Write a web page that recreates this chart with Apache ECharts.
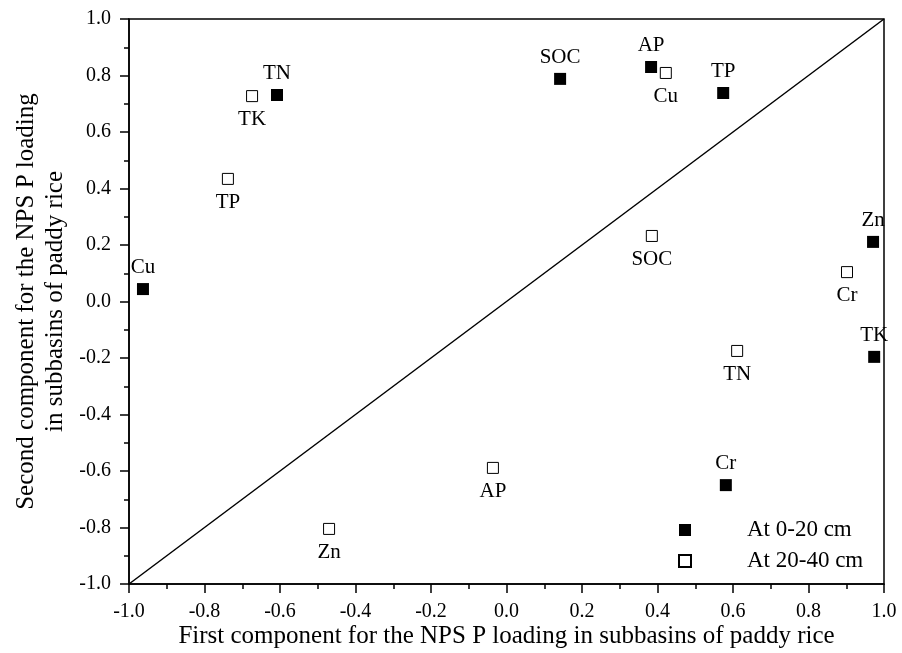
<!DOCTYPE html>
<html>
<head>
<meta charset="utf-8">
<script src="https://cdn.jsdelivr.net/npm/echarts@6/dist/echarts.min.js"></script>
<style>
html, body { margin: 0; padding: 0; background: #fff; }
#chart { width: 902px; height: 653px; }
</style>
</head>
<body>
<div id="chart"></div>
<script>
// 0-20 cm 层
var topNames = ['Cu', 'TN', 'SOC', 'AP', 'TP', 'Zn', 'TK', 'Cr'];
var topX = [-0.963, -0.608, 0.142, 0.383, 0.574, 0.971, 0.974, 0.581];
var topY = [0.044, 0.731, 0.788, 0.830, 0.738, 0.211, -0.196, -0.650];
// 20-40 cm 层
var subNames = ['TK', 'TP', 'Cu', 'SOC', 'Cr', 'TN', 'AP', 'Zn'];
var subX = [-0.674, -0.738, 0.422, 0.385, 0.902, 0.611, -0.036, -0.470];
var subY = [0.727, 0.434, 0.809, 0.232, 0.104, -0.175, -0.589, -0.805];
// 对角线 1:1
var diagX = [-1, 1];
var diagY = [-1, 1];

var fontFam = '"Liberation Serif", "Times New Roman", serif';

function buildPoints(names, xs, ys) {
	var arr = [];
	for (var i = 0; i < names.length; i++) {
		arr.push({ name: names[i], value: [xs[i], ys[i]] });
	}
	return arr;
}

var diagData = [];
for (var i = 0; i < diagX.length; i++) {
	diagData.push([diagX[i], diagY[i]]);
}

function makeAxis(extra) {
	var ax = {
		type: 'value',
		min: -1,
		max: 1,
		interval: 0.2,
		splitLine: { show: false },
		axisLine: { show: true, onZero: false, lineStyle: { color: '#000', width: 1.5 } },
		axisTick: { show: true, inside: false, length: 9, lineStyle: { color: '#000', width: 1.5 } },
		minorTick: { show: true, splitNumber: 2, length: 5, lineStyle: { color: '#000', width: 1.5 } },
		axisLabel: {
			color: '#000',
			fontSize: 20,
			margin: 18,
			fontFamily: fontFam,
			formatter: function(v) {
				return v.toFixed(1);
			}
		},
		nameLocation: 'middle',
		nameMoveOverlap: false,
		nameTextStyle: { color: '#000', fontSize: 25, fontFamily: fontFam, lineHeight: 29 }
	};
	for (var k in extra) {
		ax[k] = extra[k];
	}
	return ax;
}

var chart = echarts.init(document.getElementById('chart'));
var option = {
	backgroundColor: '#fff',
	animation: false,
	grid: {
		left: 129,
		right: 18,
		top: 19,
		bottom: 69,
		outerBoundsMode: 'none',
		show: true,
		borderColor: '#000',
		borderWidth: 1.5,
		backgroundColor: 'transparent'
	},
	legend: {
		orient: 'vertical',
		left: 678,
		top: 518,
		padding: 0,
		itemWidth: 12,
		itemHeight: 12,
		itemGap: 7,
		icon: 'rect',
		data: ['At 0-20 cm', 'At 20-40 cm'],
		textStyle: { color: '#000', fontSize: 23, lineHeight: 24, fontFamily: fontFam, padding: [0, 0, 0, 51] }
	},
	xAxis: makeAxis({
		name: 'First component for the NPS P loading in subbasins of paddy rice',
		nameGap: 38
	}),
	yAxis: makeAxis({
		name: 'Second component for the NPS P loading\nin subbasins of paddy rice',
		nameGap: 59
	}),
	series: [{
		type: 'line',
		data: diagData,
		symbol: 'none',
		silent: true,
		lineStyle: { color: '#000', width: 1.5 },
		z: 1
	}, {
		name: 'At 0-20 cm',
		type: 'scatter',
		symbol: 'rect',
		symbolSize: 12,
		data: buildPoints(topNames, topX, topY),
		itemStyle: { color: '#000', opacity: 1 },
		label: {
			show: true,
			position: 'top',
			distance: 5,
			formatter: '{b}',
			color: '#000',
			fontSize: 21,
			fontFamily: fontFam
		},
		z: 3
	}, {
		name: 'At 20-40 cm',
		type: 'scatter',
		symbol: 'rect',
		symbolSize: 11,
		data: buildPoints(subNames, subX, subY),
		itemStyle: { color: '#fff', borderColor: '#000', borderWidth: 1, opacity: 1 },
		label: {
			show: true,
			position: 'bottom',
			distance: 7,
			formatter: '{b}',
			color: '#000',
			fontSize: 21,
			fontFamily: fontFam
		},
		z: 3
	}]
};
chart.setOption(option);
</script>
</body>
</html>
